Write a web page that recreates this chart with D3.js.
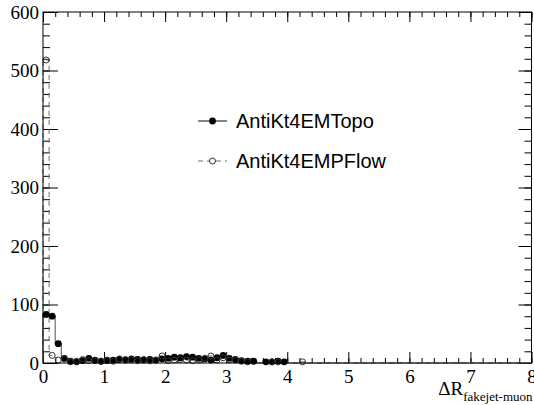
<!DOCTYPE html>
<html>
<head>
<meta charset="utf-8">
<script src="https://cdn.jsdelivr.net/npm/d3@7"></script>
<style>
  body { margin: 0; background: #ffffff; }
  .serif { font-family: "Liberation Serif", "Times New Roman", Times, serif; }
  .sans { font-family: "Liberation Sans", Arial, Helvetica, sans-serif; }
</style>
</head>
<body>
<script>
// bin centres (bin width 0.1) and contents
const binCenters = [0.05, 0.15, 0.25, 0.35, 0.45, 0.55, 0.65, 0.75, 0.85, 0.95,
    1.05, 1.15, 1.25, 1.35, 1.45, 1.55, 1.65, 1.75, 1.85, 1.95,
    2.05, 2.15, 2.25, 2.35, 2.45, 2.55, 2.65, 2.75, 2.85, 2.95,
    3.05, 3.15, 3.25, 3.35, 3.45, 3.55, 3.65, 3.75, 3.85, 3.95,
    4.05, 4.15, 4.25];
const topoValues = [83, 80, 33, 8, 3, 2, 4, 8, 5, 3,
    4, 5, 6, 5, 7, 6, 5, 6, 5, 7,
    8, 10, 9, 11, 10, 8, 7, 5, 9, 13,
    8, 6, 4, 3, 3, 0, 2, 2, 3, 2,
    0, 0, 0];
const pflowValues = [518, 13, 5, 7, 2, 3, 6, 4, 4, 3,
    5, 3, 7, 6, 5, 4, 6, 4, 5, 12,
    4, 5, 6, 5, 4, 5, 8, 12, 5, 9,
    5, 5, 3, 2, 0, 0, 0, 2, 2, 0,
    0, 0, 2];
const seriesNames = ['AntiKt4EMTopo', 'AntiKt4EMPFlow'];
const xTickLabels = ['0', '1', '2', '3', '4', '5', '6', '7', '8'];
const yTickLabels = ['0', '100', '200', '300', '400', '500', '600'];

const WIDTH = 534;
const HEIGHT = 405;
const FRAME = { left: 43, right: 531.5, top: 12, bottom: 363 };
const BIN_WIDTH = 0.1;
const LINE_COLOR = '#6e6e6e';

const svg = d3.select('body').append('svg')
    .attr('width', WIDTH)
    .attr('height', HEIGHT)
    .attr('xmlns', 'http://www.w3.org/2000/svg');

svg.append('rect')
    .attr('width', WIDTH)
    .attr('height', HEIGHT)
    .attr('fill', '#ffffff');

const x = d3.scaleLinear().domain([0, 8]).range([FRAME.left, FRAME.right]);
const y = d3.scaleLinear().domain([0, 600]).range([FRAME.bottom, FRAME.top]);

const xMajors = xTickLabels.map(Number);
const yMajors = yTickLabels.map(Number);

// Axes: ticks point inward like ROOT
function styleAxis(g) {
    g.attr('font-family', null).attr('font-size', null).attr('class', 'serif');
    g.select('.domain').remove();
    g.selectAll('line').attr('stroke', '#000').attr('stroke-width', 1);
    g.selectAll('text')
        .style('font-size', '19px')
        .attr('fill', '#000');
}

// bottom
svg.append('g')
    .attr('transform', `translate(0,${FRAME.bottom})`)
    .call(d3.axisBottom(x).ticks(40).tickSize(-5).tickSizeOuter(0).tickFormat(''))
    .call(styleAxis);
svg.append('g')
    .attr('transform', `translate(0,${FRAME.bottom})`)
    .call(d3.axisBottom(x).tickValues(xMajors).tickSize(-11).tickSizeOuter(0).tickPadding(7)
        .tickFormat((d, i) => xTickLabels[i]))
    .call(styleAxis);

// top
svg.append('g')
    .attr('transform', `translate(0,${FRAME.top})`)
    .call(d3.axisTop(x).ticks(40).tickSize(-5).tickSizeOuter(0).tickFormat(''))
    .call(styleAxis);
svg.append('g')
    .attr('transform', `translate(0,${FRAME.top})`)
    .call(d3.axisTop(x).tickValues(xMajors).tickSize(-10).tickSizeOuter(0).tickFormat(''))
    .call(styleAxis);

// left
svg.append('g')
    .attr('transform', `translate(${FRAME.left},0)`)
    .call(d3.axisLeft(y).ticks(30).tickSize(-7).tickSizeOuter(0).tickFormat(''))
    .call(styleAxis);
svg.append('g')
    .attr('transform', `translate(${FRAME.left},0)`)
    .call(d3.axisLeft(y).tickValues(yMajors).tickSize(-15).tickSizeOuter(0).tickPadding(4)
        .tickFormat((d, i) => yTickLabels[i]))
    .call(styleAxis);

// right
svg.append('g')
    .attr('transform', `translate(${FRAME.right},0)`)
    .call(d3.axisRight(y).ticks(30).tickSize(-7).tickSizeOuter(0).tickFormat(''))
    .call(styleAxis);
svg.append('g')
    .attr('transform', `translate(${FRAME.right},0)`)
    .call(d3.axisRight(y).tickValues(yMajors).tickSize(-13).tickSizeOuter(0).tickFormat(''))
    .call(styleAxis);

// Histogram outlines
function stepPoints(values) {
    const pts = binCenters.map((c, i) => [c - BIN_WIDTH / 2, values[i]]);
    const last = binCenters[binCenters.length - 1] + BIN_WIDTH / 2;
    pts.unshift([0, 0]);
    pts.push([last, 0]);
    pts.push([8, 0]);
    return pts;
}

const stepLine = d3.line()
    .x(d => x(d[0]))
    .y(d => y(d[1]))
    .curve(d3.curveStepAfter);

svg.append('path')
    .attr('d', stepLine(stepPoints(pflowValues)))
    .attr('fill', 'none')
    .attr('stroke', LINE_COLOR)
    .attr('stroke-width', 1)
    .attr('stroke-dasharray', '5 4');

svg.append('path')
    .attr('d', stepLine(stepPoints(topoValues)))
    .attr('fill', 'none')
    .attr('stroke', LINE_COLOR)
    .attr('stroke-width', 1.2);

// Markers (empty bins are skipped)
const MARKER_R = 3.4;
svg.append('g').selectAll('circle')
    .data(binCenters.map((c, i) => [c, topoValues[i]]).filter(d => d[1] > 0))
    .join('circle')
    .attr('cx', d => x(d[0]))
    .attr('cy', d => y(d[1]))
    .attr('r', MARKER_R)
    .attr('fill', '#000');

svg.append('g').selectAll('circle')
    .data(binCenters.map((c, i) => [c, pflowValues[i]]).filter(d => d[1] > 0))
    .join('circle')
    .attr('cx', d => x(d[0]))
    .attr('cy', d => y(d[1]))
    .attr('r', MARKER_R - 0.4)
    .attr('fill', 'none')
    .attr('stroke', '#333')
    .attr('stroke-width', 1);

// Frame
svg.append('rect')
    .attr('x', FRAME.left)
    .attr('y', FRAME.top)
    .attr('width', FRAME.right - FRAME.left)
    .attr('height', FRAME.bottom - FRAME.top)
    .attr('fill', 'none')
    .attr('stroke', '#000')
    .attr('stroke-width', 1);

// X axis title
const xTitle = svg.append('text')
    .attr('class', 'serif')
    .attr('x', FRAME.right + 1)
    .attr('y', 395)
    .attr('text-anchor', 'end')
    .attr('fill', '#000');
xTitle.append('tspan').style('font-size', '19px').text('ΔR');
xTitle.append('tspan').style('font-size', '13px').attr('dy', 6).text('fakejet-muon');

// Legend
const legendRows = [
    { name: seriesNames[0], y: 121, dashed: false, filled: true },
    { name: seriesNames[1], y: 161, dashed: true, filled: false }
];
legendRows.forEach(row => {
    const g = svg.append('g');
    g.append('line')
        .attr('x1', 198).attr('x2', 227)
        .attr('y1', row.y).attr('y2', row.y)
        .attr('stroke', row.dashed ? LINE_COLOR : '#444')
        .attr('stroke-width', row.dashed ? 1 : 1.3)
        .attr('stroke-dasharray', row.dashed ? '5 4' : null);
    g.append('circle')
        .attr('cx', 212.5)
        .attr('cy', row.y)
        .attr('r', row.filled ? MARKER_R : MARKER_R - 0.4)
        .attr('fill', row.filled ? '#000' : '#fff')
        .attr('stroke', row.filled ? null : '#333');
    g.append('text')
        .attr('class', 'sans')
        .attr('x', 236)
        .attr('y', row.y + 7)
        .style('font-size', '20px')
        .attr('fill', '#000')
        .text(row.name);
});
</script>
</body>
</html>
